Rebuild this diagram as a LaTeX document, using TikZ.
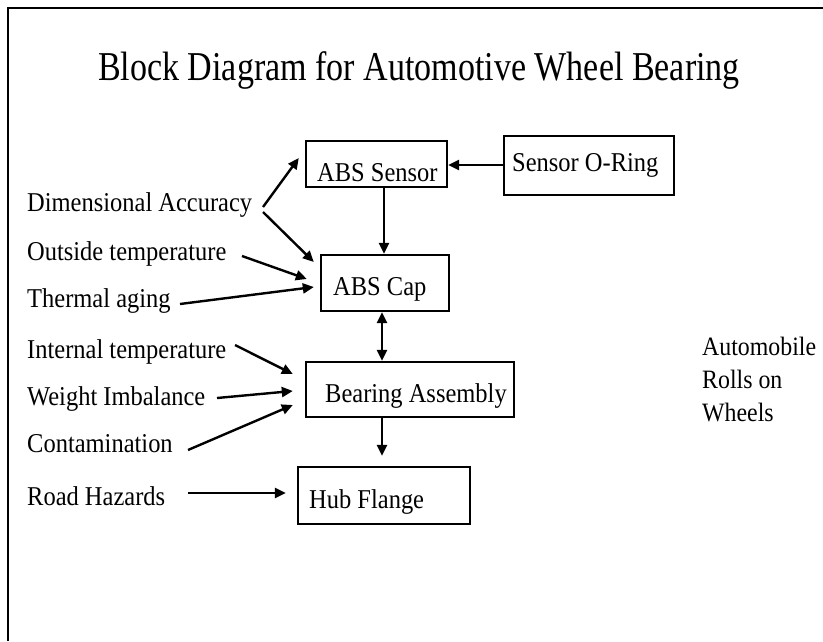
\documentclass[tikz,border=0pt]{standalone}
\usepackage{fontspec}
\setmainfont[FakeStretch=0.9]{Liberation Serif}
\newfontfamily\titlefont[FakeStretch=0.83]{Liberation Serif}
\usetikzlibrary{arrows.meta,calc}
\tikzset{
  box/.style={draw, line width=2.4pt, inner sep=0pt, rectangle},
  lbl/.style={inner sep=0pt, anchor=base west, font=\rmfamily\fontsize{27.2}{33}\selectfont},
  tip/.tip={Triangle[length=11pt,width=10pt]},
  arr/.style={line width=2.4pt, -tip},
  darr/.style={line width=2.4pt, tip-tip},
}
\begin{document}
\begin{tikzpicture}[x=1pt,y=-1pt]
\useasboundingbox (0,0) rectangle (823,641);
% frame
\draw[line width=2.5pt] (8,641) -- (8,8) -- (823,8);

% title
\node[font=\titlefont\fontsize{41}{48}\selectfont, anchor=base, inner sep=0pt] (title) at (419,80) {Block Diagram for Automotive Wheel Bearing};

% blocks
\node[box, minimum width=141pt, minimum height=46pt] (sensor) at (376.5,164) {};
\node[box, minimum width=170pt, minimum height=59pt] (oring) at (589,165.5) {};
\node[box, minimum width=128pt, minimum height=56pt] (cap) at (385,283) {};
\node[box, minimum width=208pt, minimum height=55pt] (bearing) at (410,389.5) {};
\node[box, minimum width=172pt, minimum height=57pt] (hub) at (384,495.5) {};

\node[lbl] (sensortxt) at (317,181) {ABS Sensor};
\node[lbl] (oringtxt) at (512,171) {Sensor O-Ring};
\node[lbl] (captxt) at (333,295) {ABS Cap};
\node[lbl] (bearingtxt) at (325,402) {Bearing Assembly};
\node[lbl] (hubtxt) at (309,508) {Hub Flange};

% influencing factors
\node[lbl] (dim) at (27,211) {Dimensional Accuracy};
\node[lbl] (outside) at (27,260) {Outside temperature};
\node[lbl] (thermal) at (27,307) {Thermal aging};
\node[lbl] (internal) at (27,358) {Internal temperature};
\node[lbl] (weight) at (27,405) {Weight Imbalance};
\node[lbl] (contam) at (27,452) {Contamination};
\node[lbl] (road) at (27,505) {Road Hazards};

\node[lbl, anchor=north west, align=left, font=\rmfamily\fontsize{26.5}{33}\selectfont] (auto) at (702,337) {Automobile\\Rolls on\\Wheels};

% arrow start points beside the factor labels
\coordinate (dimA) at (263,207);
\coordinate (dimB) at (263,212);
\coordinate (outsideA) at (242,256);
\coordinate (thermalA) at (180,304);
\coordinate (internalA) at (235,345);
\coordinate (weightA) at (217,398);
\coordinate (contamA) at (188,450);
\coordinate (roadA) at (188,493);

\draw[arr] (dimA) -- ($(sensor.west)+(-6,-6)$);
\draw[arr] (dimB) -- ($(cap.west)+(-6,-21)$);
\draw[arr] (outsideA) -- ($(cap.west)+(-13,-4)$);
\draw[arr] (thermalA) -- ($(cap.west)+(-6,4)$);
\draw[arr] (internalA) -- ($(bearing.west)+(-12,-15.5)$);
\draw[arr] (weightA) -- ($(bearing.west)+(-12,1.5)$);
\draw[arr] (contamA) -- ($(bearing.west)+(-12,15.5)$);
\draw[arr] (roadA) -- ($(hub.west)+(-11,-2.5)$);

% block connections
\draw[arr] (oring.west |- 0,165) -- (sensor.east |- 0,165);
\draw[arr] (sensor.south -| 384,0) -- (cap.north -| 384,0);
\draw[darr] (cap.south -| 382,0) -- (bearing.north -| 382,0);
\draw[arr, shorten >=10pt] (bearing.south -| 382,0) -- (hub.north -| 382,0);
\end{tikzpicture}
\end{document}
